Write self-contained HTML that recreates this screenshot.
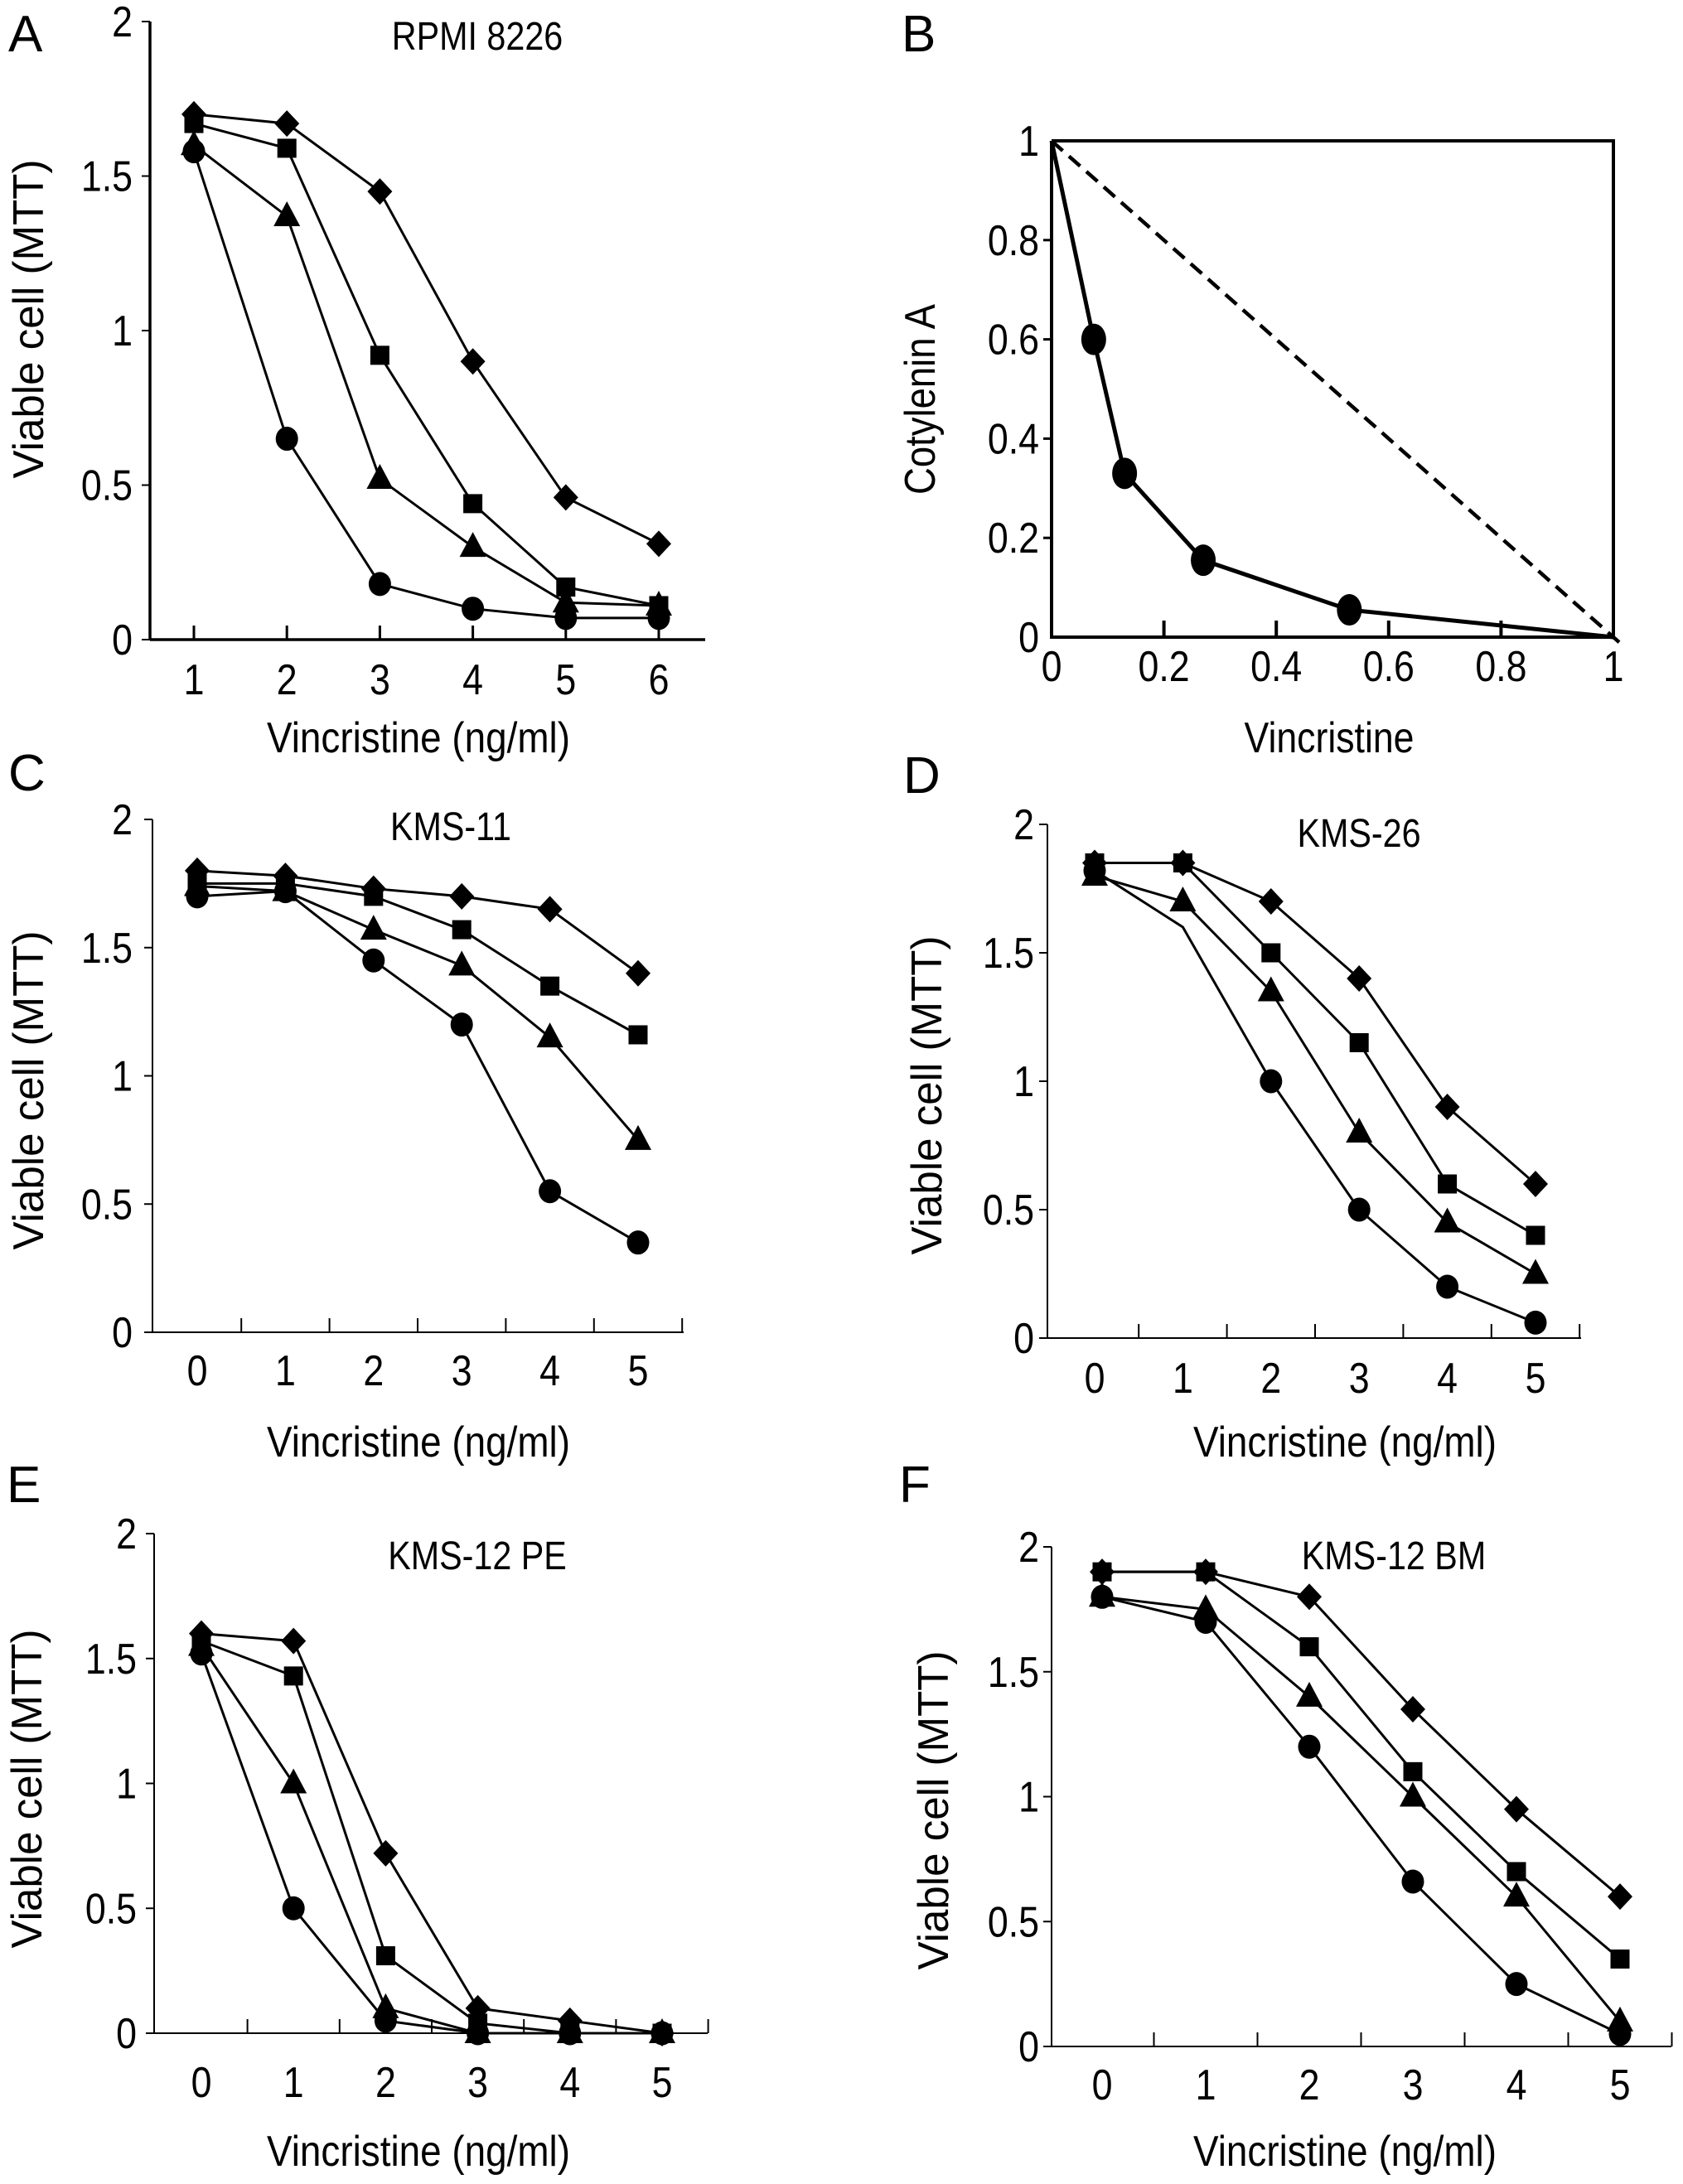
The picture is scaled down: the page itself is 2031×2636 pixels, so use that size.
<!DOCTYPE html>
<html><head><meta charset="utf-8"><style>
html,body{margin:0;padding:0;background:#fff;}
svg{display:block;font-family:"Liberation Sans Narrow","Liberation Sans",Arial,sans-serif;}
</style></head><body>
<svg id="fig" width="2031" height="2636" viewBox="0 0 2031 2636"></svg>
<script>
// ---------- data ----------
const xCatsA = [1,2,3,4,5,6];
const xCats05 = [0,1,2,3,4,5];
const yTicksMTT = [0,0.5,1,1.5,2];
const yTickLabelsMTT = ["0","0.5","1","1.5","2"];

const aDiamond = [1.70,1.67,1.45,0.90,0.46,0.31];
const aSquare  = [1.67,1.59,0.92,0.44,0.17,0.11];
const aTriangle= [1.60,1.37,0.52,0.30,0.12,0.11];
const aCircle  = [1.58,0.65,0.18,0.10,0.07,0.07];

const bX = [0,0.075,0.13,0.27,0.53,1];
const bY = [1,0.60,0.33,0.155,0.055,0];
const bTicks = [0,0.2,0.4,0.6,0.8,1];
const bTickLabels = ["0","0.2","0.4","0.6","0.8","1"];

const cDiamond = [1.80,1.78,1.73,1.70,1.65,1.40];
const cSquare  = [1.75,1.75,1.70,1.57,1.35,1.16];
const cTriangle= [1.74,1.72,1.57,1.43,1.15,0.75];
const cCircle  = [1.70,1.72,1.45,1.20,0.55,0.35];

const dDiamond = [1.85,1.85,1.70,1.40,0.90,0.60];
const dSquare  = [1.85,1.85,1.50,1.15,0.60,0.40];
const dTriangle= [1.80,1.70,1.35,0.80,0.45,0.25];
const dCircle  = [1.82,1.60,1.00,0.50,0.20,0.06];
const dCircleShown = [true,false,true,true,true,true];

const eDiamond = [1.60,1.57,0.72,0.10,0.05,0.00];
const eSquare  = [1.57,1.43,0.31,0.04,0.00,0.00];
const eTriangle= [1.55,1.00,0.10,0.00,0.00,0.00];
const eCircle  = [1.52,0.50,0.05,0.00,0.00,0.00];

const fDiamond = [1.90,1.90,1.80,1.35,0.95,0.60];
const fSquare  = [1.90,1.90,1.60,1.10,0.70,0.35];
const fTriangle= [1.80,1.75,1.40,1.00,0.60,0.10];
const fCircle  = [1.80,1.70,1.20,0.66,0.25,0.05];

// ---------- helpers ----------
const NS="http://www.w3.org/2000/svg";
const svg=document.getElementById('fig');
function mk(tag,attrs,parent){const e=document.createElementNS(NS,tag);for(const k in attrs)e.setAttribute(k,attrs[k]);(parent||svg).appendChild(e);return e;}
// text drawn with vertical stretch (condensed look)
function txt(s,x,y,size,anchor,parent,extra){
  const t=mk('text',Object.assign({x:0,y:0,'font-size':size,'text-anchor':anchor||'middle',fill:'#000',transform:`translate(${x},${y}) scale(0.86,1)`},extra||{}),parent);
  t.textContent=s;return t;}

function marker(g,kind,x,y){
  let e;
  if(kind==='diamond') e=mk('polygon',{points:`${x},${y-16} ${x+15},${y} ${x},${y+16} ${x-15},${y}`,fill:'#000'},g);
  else if(kind==='square') e=mk('rect',{x:x-11.5,y:y-11.5,width:23,height:23,fill:'#000'},g);
  else if(kind==='triangle') e=mk('polygon',{points:`${x},${y-18} ${x+16},${y+12} ${x-16},${y+12}`,fill:'#000'},g);
  else e=mk('ellipse',{cx:x,cy:y,rx:13.5,ry:14.5,fill:'#000'},g);
  
  
}

function panel(cfg){
  const g=mk('g',{});
  
  
  const n=cfg.cats.length;
  const xs=i=>cfg.xFirst+(cfg.xLast-cfg.xFirst)*i/(n-1);
  const ys=v=>cfg.y0+(cfg.y2-cfg.y0)*v/2;
  const ya=mk('line',{x1:cfg.axisX,y1:cfg.y2,x2:cfg.axisX,y2:cfg.y0,stroke:'#000','stroke-width':cfg.aw},g);
  
  const xa=mk('line',{x1:cfg.axisX,y1:cfg.y0,x2:cfg.axisEnd,y2:cfg.y0,stroke:'#000','stroke-width':cfg.aw},g);
  
  yTicksMTT.forEach((v,i)=>{
    mk('line',{x1:cfg.axisX-10,y1:ys(v),x2:cfg.axisX,y2:ys(v),stroke:'#000','stroke-width':2},g);
    const t=txt(yTickLabelsMTT[i],cfg.yTickRight,ys(v)+18,52,'end',g);
    
  });
  if(cfg.tickMode==='points'){
    cfg.cats.forEach((c,i)=>mk('line',{x1:xs(i),y1:cfg.y0,x2:xs(i),y2:cfg.y0-17,stroke:'#000','stroke-width':3},g));
  } else {
    const step=(cfg.xLast-cfg.xFirst)/(n-1);
    for(let i=0;i<n;i++){const x=xs(i)+step/2;mk('line',{x1:x,y1:cfg.y0,x2:x,y2:cfg.y0-17,stroke:'#000','stroke-width':2},g);}
  }
  cfg.cats.forEach((c,i)=>{const t=txt(String(c),xs(i),cfg.tickLabY,52,'middle',g);
    });
  cfg.series.forEach(s=>{
    const sg=mk('g',{},g);
    
    
    const pts=s.vals.map((v,i)=>xs(i)+','+ys(v)).join(' ');
    mk('polyline',{points:pts,fill:'none',stroke:'#000','stroke-width':3},sg);
    s.vals.forEach((v,i)=>{ if(!s.shown || s.shown[i]) marker(sg,s.kind,xs(i),ys(v)); });
  });
  const tt=txt(cfg.title,cfg.titleX,cfg.titleY,48,'middle',g);
  
  const lt=mk('text',{x:cfg.letterX,y:cfg.letterY,'font-size':62,fill:'#000','font-family':'Liberation Sans, sans-serif'},g);
  lt.textContent=cfg.letter;
  
  const xl=mk('text',{x:cfg.xLabelX,y:cfg.xLabelY,'font-size':52,'text-anchor':'middle',fill:'#000',textLength:366,lengthAdjust:'spacingAndGlyphs'},g);
  xl.textContent='Vincristine (ng/ml)';
  
  const yl=mk('text',{x:0,y:0,'font-size':52,'text-anchor':'middle',fill:'#000',textLength:385,lengthAdjust:'spacingAndGlyphs',transform:`translate(${cfg.yLabelX},${cfg.yLabelY}) rotate(-90)`},g);
  yl.textContent='Viable cell  (MTT)';
  
}

const ser=(d,s,t,c,cs)=>[{kind:'diamond',vals:d},{kind:'square',vals:s},{kind:'triangle',vals:t},{kind:'circle',vals:c,shown:cs}];

panel({letter:'A',axisX:181,axisEnd:851,y0:772,y2:26,xFirst:234,xLast:795,cats:xCatsA,series:ser(aDiamond,aSquare,aTriangle,aCircle),
  title:'RPMI 8226',titleX:576,titleY:60,letterX:10,letterY:62,tickLabY:838,xLabelX:505,xLabelY:908,yLabelX:52,yLabelY:385,yTickRight:160,tickMode:'points',aw:3.5});
panel({letter:'C',axisX:184,axisEnd:825,y0:1608,y2:989,xFirst:238,xLast:770,cats:xCats05,series:ser(cDiamond,cSquare,cTriangle,cCircle),
  title:'KMS-11',titleX:544,titleY:1014,letterX:10,letterY:954,tickLabY:1672,xLabelX:505,xLabelY:1758,yLabelX:52,yLabelY:1316,yTickRight:160,tickMode:'between',aw:2});
panel({letter:'D',axisX:1264,axisEnd:1908,y0:1615,y2:995,xFirst:1321,xLast:1853,cats:xCats05,series:ser(dDiamond,dSquare,dTriangle,dCircle,dCircleShown),
  title:'KMS-26',titleX:1640,titleY:1022,letterX:1090,letterY:957,tickLabY:1681,xLabelX:1623,xLabelY:1758,yLabelX:1136,yLabelY:1322,yTickRight:1248,tickMode:'between',aw:2});
panel({letter:'E',axisX:186,axisEnd:854,y0:2454,y2:1851,xFirst:243,xLast:799,cats:xCats05,series:ser(eDiamond,eSquare,eTriangle,eCircle),
  title:'KMS-12 PE',titleX:576,titleY:1894,letterX:8,letterY:1813,tickLabY:2531,xLabelX:505,xLabelY:2614,yLabelX:50,yLabelY:2159,yTickRight:165,tickMode:'between',aw:2});
panel({letter:'F',axisX:1269,axisEnd:2017,y0:2470,y2:1867,xFirst:1330,xLast:1955,cats:xCats05,series:ser(fDiamond,fSquare,fTriangle,fCircle),
  title:'KMS-12 BM',titleX:1682,titleY:1894,letterX:1085,letterY:1813,tickLabY:2534,xLabelX:1623,xLabelY:2614,yLabelX:1144,yLabelY:2185,yTickRight:1254,tickMode:'between',aw:2});

// ---------- panel B (isobologram) ----------
(function(){
  const g=mk('g',{});
  
  
  const x0=1269,x1=1947,y0=769,y1=170;
  const xs=v=>x0+(x1-x0)*v, ys=v=>y0+(y1-y0)*v;
  const box=mk('path',{d:`M${xs(0)},${ys(1)} L${xs(0)},${ys(0)} L${xs(1)},${ys(0)} M${xs(0)},${ys(1)} L${xs(1)},${ys(1)} L${xs(1)},${ys(0)}`,fill:'none',stroke:'#000','stroke-width':4},g);
  
  bTicks.forEach((v,i)=>{
    if(v>0&&v<1){
      mk('line',{x1:xs(v),y1:y0,x2:xs(v),y2:y0-20,stroke:'#000','stroke-width':4},g);
      mk('line',{x1:x0-10,y1:ys(v),x2:x0,y2:ys(v),stroke:'#000','stroke-width':3},g);
    }
    const tx=txt(bTickLabels[i],xs(v),822,52,'middle',g);
    
    const ty=txt(bTickLabels[i],1254,ys(v)+18,52,'end',g);
    
  });
  const dl=mk('line',{x1:xs(0),y1:ys(1),x2:xs(1.015),y2:ys(-0.015),stroke:'#000','stroke-width':4.5,'stroke-dasharray':'18,10'},g);
  
  const pl=mk('polyline',{points:bX.map((v,i)=>xs(v)+','+ys(bY[i])).join(' '),fill:'none',stroke:'#000','stroke-width':5},g);
  
  bX.forEach((v,i)=>{ if(i>0&&i<bX.length-1){
    const e=mk('ellipse',{cx:xs(v),cy:ys(bY[i]),rx:15,ry:19,fill:'#000'},g);
    }});
  const lt=mk('text',{x:1088,y:62,'font-size':62,fill:'#000','font-family':'Liberation Sans, sans-serif'},g);
  lt.textContent='B';
  
  const xl=mk('text',{x:1604,y:908,'font-size':52,'text-anchor':'middle',fill:'#000',textLength:205,lengthAdjust:'spacingAndGlyphs'},g);
  xl.textContent='Vincristine';
  
  const yl=mk('text',{x:0,y:0,'font-size':52,'text-anchor':'middle',fill:'#000',textLength:230,lengthAdjust:'spacingAndGlyphs',transform:'translate(1128,482) rotate(-90)'},g);
  yl.textContent='Cotylenin A';
  
})();
</script>
</body></html>
